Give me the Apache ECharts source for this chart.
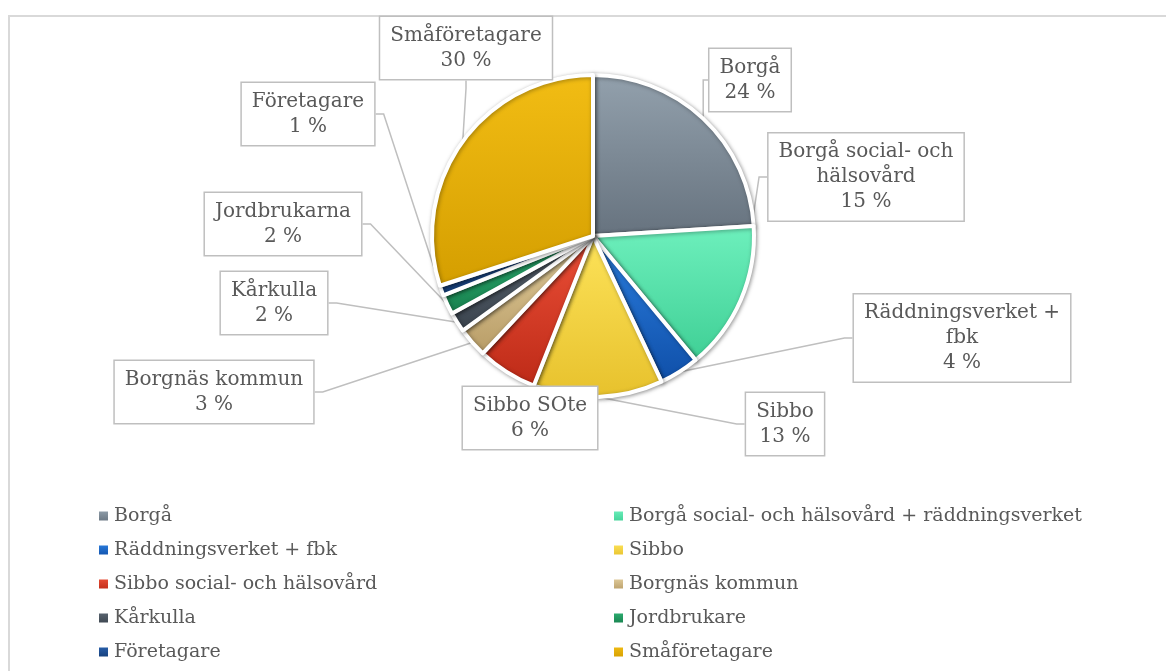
<!DOCTYPE html>
<html>
<head>
<meta charset="utf-8">
<script src="https://cdn.jsdelivr.net/npm/echarts@6/dist/echarts.min.js"></script>
<style>
  html, body { margin: 0; padding: 0; background: #fff; }
  #container { width: 1166px; height: 671px; }
</style>
</head>
<body>
<div id="container"></div>
<script>
var dom = document.getElementById("container");
var myChart = echarts.init(dom);

// legend names (series data names)
var categories = [
    "Borgå",
    "Borgå social- och hälsovård + räddningsverket",
    "Räddningsverket + fbk",
    "Sibbo",
    "Sibbo social- och hälsovård",
    "Borgnäs kommun",
    "Kårkulla",
    "Jordbrukare",
    "Företagare",
    "Småföretagare"
];

// text shown in the callout boxes
var labelNames = [
    "Borgå",
    "Borgå social- och\nhälsovård",
    "Räddningsverket +\nfbk",
    "Sibbo",
    "Sibbo SOte",
    "Borgnäs kommun",
    "Kårkulla",
    "Jordbrukarna",
    "Företagare",
    "Småföretagare"
];

// share in %
var values = [24, 15, 4, 13, 6, 3, 2, 2, 1, 30];

var colors = [
    ["#93a1ad", "#66727e"],
    ["#6ef0bd", "#3fcf95"],
    ["#2c7fe0", "#0f4fa8"],
    ["#fde35a", "#e7c12c"],
    ["#ec5038", "#bd2a17"],
    ["#e3cf9f", "#b89c66"],
    ["#5d6874", "#3a434d"],
    ["#2fb274", "#177f4d"],
    ["#2a62b0", "#143c75"],
    ["#f2bd14", "#d49e00"]
];

// callout box centres (layout only)
var labelPos = [
    [750, 80], [866, 177], [962, 338], [785, 424], [530, 418],
    [214, 392], [274, 303], [283, 224], [308, 114], [466, 48]
];

var fontFamily = 'Georgia, "DejaVu Serif", serif';

var pieData = categories.map(function (name, i) {
    return {
        name: name,
        value: values[i],
        itemStyle: {
            color: new echarts.graphic.LinearGradient(0, 0, 0, 1, [
                { offset: 0, color: colors[i][0] },
                { offset: 1, color: colors[i][1] }
            ])
        }
    };
});

var legendText = {
    color: '#595959',
    fontSize: 19,
    fontFamily: fontFamily,
    lineHeight: 24
};

var option = {
    backgroundColor: '#fff',
    animation: false,
    graphic: [{
        type: 'rect',
        shape: { x: 9, y: 16, width: 1300, height: 800 },
        style: { fill: 'none', stroke: '#d9d9d9', lineWidth: 2 },
        silent: true
    }],
    legend: [{
        orient: 'vertical',
        left: 92,
        top: 499,
        itemWidth: 11,
        itemHeight: 11,
        itemGap: 10,
        icon: 'rect',
        textStyle: legendText,
        data: [categories[0], categories[2], categories[4], categories[6], categories[8]]
    }, {
        orient: 'vertical',
        left: 607,
        top: 499,
        itemWidth: 11,
        itemHeight: 11,
        itemGap: 10,
        icon: 'rect',
        textStyle: legendText,
        data: [categories[1], categories[3], categories[5], categories[7], categories[9]]
    }],
    series: [{
        type: 'pie',
        center: [593, 236],
        radius: ['0%', 161],
        startAngle: 90,
        clockwise: true,
        itemStyle: {
            borderColor: '#ffffff',
            borderWidth: 4,
            shadowBlur: 4,
            shadowColor: 'rgba(0,0,0,0.35)',
            shadowOffsetX: 1,
            shadowOffsetY: 1
        },
        label: {
            show: true,
            formatter: function (p) {
                return labelNames[p.dataIndex] + '\n' + p.value + ' %';
            },
            color: '#595959',
            fontSize: 20,
            fontFamily: fontFamily,
            lineHeight: 25,
            align: 'center',
            backgroundColor: '#fff',
            borderColor: '#bfbfbf',
            borderWidth: 1.5,
            padding: [6, 10]
        },
        labelLine: {
            show: true,
            length: 8,
            length2: 8,
            lineStyle: { color: '#bfbfbf', width: 1.5 }
        },
        labelLayout: function (params) {
            var pos = labelPos[params.dataIndex];
            return {
                x: pos[0],
                y: pos[1],
                align: 'center',
                verticalAlign: 'middle'
            };
        },
        data: pieData
    }]
};

myChart.setOption(option);
</script>
</body>
</html>
